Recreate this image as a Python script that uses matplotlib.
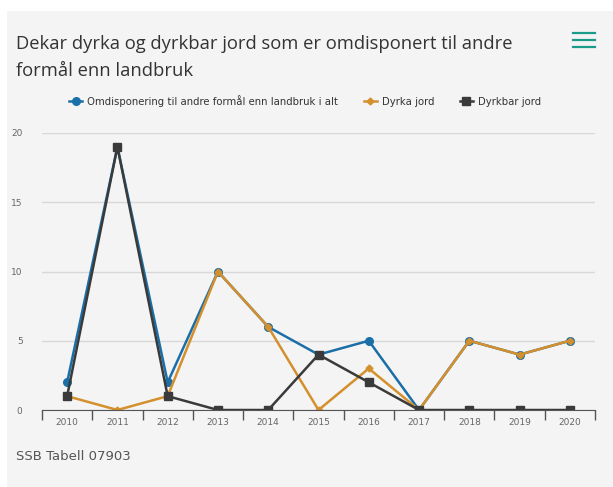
import matplotlib.pyplot as plt
import matplotlib.patches as patches
import numpy as np

years = ['2010', '2011', '2012', '2013', '2014', '2015', '2016', '2017', '2018', '2019', '2020']
alt = [2, 19, 2, 10, 6, 4, 5, 0, 5, 4, 5]
dyrka = [1, 0, 1, 10, 6, 0, 3, 0, 5, 4, 5]
dyrkbar = [1, 19, 1, 0, 0, 4, 2, 0, 0, 0, 0]

names = ['Omdisponering til andre formål enn landbruk i alt', 'Dyrka jord', 'Dyrkbar jord']
colors = ['#1b6fa8', '#d4902c', '#3a3a3a']

W, H = 613, 487
fig = plt.figure(figsize=(W / 100, H / 100), dpi=100, facecolor='white')

# grey card background
fig.patches.append(patches.Rectangle((7 / W, 0), 1, 1 - 11 / H, transform=fig.transFigure,
                                     facecolor='#f4f4f4', edgecolor='none', zorder=-10))

ax = fig.add_axes([42 / W, 1 - 410 / H, (595 - 42) / W, (410 - 133) / H])
ax.set_facecolor('none')

x = np.arange(len(years))
ax.plot(x, alt, color=colors[0], lw=1.8, marker='o', ms=5.5, label=names[0], zorder=3)
ax.plot(x, dyrka, color=colors[1], lw=1.8, marker='D', ms=3.5, label=names[1], zorder=4)
ax.plot(x, dyrkbar, color=colors[2], lw=1.8, marker='s', ms=6, label=names[2], zorder=5)

ax.set_xlim(-0.5, len(years) - 0.5)
ax.set_ylim(0, 20)
ax.set_yticks([0, 5, 10, 15, 20])
ax.grid(axis='y', color='#d8d8d8', lw=1)
ax.set_axisbelow(True)

ax.set_xticks(np.arange(-0.5, len(years)), minor=False)
ax.set_xticklabels([])
ax.set_xticks(x, minor=True)
ax.set_xticklabels(years, minor=True)
ax.tick_params(axis='x', which='major', length=7, width=1, color='#555555', direction='out')
ax.tick_params(axis='x', which='minor', length=0, pad=6, labelsize=6.5, labelcolor='#666666')
ax.tick_params(axis='y', length=0, pad=14, labelsize=6.5, labelcolor='#666666')

for s in ['top', 'right', 'left']:
    ax.spines[s].set_visible(False)
ax.spines['bottom'].set_color('#555555')
ax.spines['bottom'].set_zorder(6)

fig.text(16 / W, 1 - 44 / H, 'Dekar dyrka og dyrkbar jord som er omdisponert til andre',
         fontsize=13.2, color='#333333', va='center', family='Open Sans')
fig.text(16 / W, 1 - 71 / H, 'formål enn landbruk',
         fontsize=13.2, color='#333333', va='center', family='Open Sans')

# menu icon
for yy in [33, 40, 47]:
    fig.add_artist(plt.Line2D([573 / W, 595 / W], [1 - yy / H, 1 - yy / H],
                              transform=fig.transFigure, color='#1a9a8a', lw=1.6))

leg = fig.legend(loc='center', bbox_to_anchor=(305 / W, 1 - 101 / H), ncol=3, frameon=False,
                 handlelength=1.3, columnspacing=2.5, handletextpad=0.5,
                 prop={'family': ['Liberation Sans Narrow', 'DejaVu Sans'], 'size': 7.3})
for t in leg.get_texts():
    t.set_color('#333333')

fig.text(16 / W, 1 - 457 / H, 'SSB Tabell 07903', fontsize=9.5, color='#555555', va='center')

fig.savefig('out.png', dpi=100, facecolor=fig.get_facecolor())
